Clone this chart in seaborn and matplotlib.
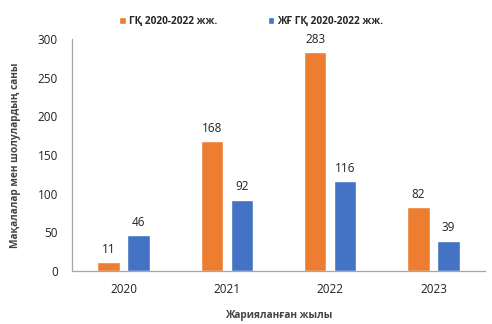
import matplotlib
matplotlib.use("Agg")
import matplotlib.pyplot as plt
import seaborn as sns
import pandas as pd

years = ["2020", "2021", "2022", "2023"]
series_names = ["ГҚ 2020-2022 жж.", "ЖҒ ГҚ 2020-2022 жж."]
gk_values = [11, 168, 283, 82]
zhg_values = [46, 92, 116, 39]
colors = ["#ED7D31", "#4472C4"]

df = pd.DataFrame({
    "year": years * 2,
    "value": gk_values + zhg_values,
    "series": [series_names[0]] * len(years) + [series_names[1]] * len(years),
})

sns.set_theme(style="white")
plt.rcParams["font.family"] = ["Open Sans", "Noto Sans", "DejaVu Sans"]

fig = plt.figure(figsize=(4.92, 3.24), dpi=100)
ax = fig.add_axes([0.146, 0.164, 0.84, 0.716])

sns.barplot(data=df, x="year", y="value", hue="series", palette=colors,
            width=0.58, gap=0.25, ax=ax, saturation=1, legend=True)

for cont in ax.containers:
    ax.bar_label(cont, padding=4.5, fontsize=8.5, color="#222222")

ax.set_ylim(0, 300)
ax.set_yticks(range(0, 301, 50))
ax.set_xlim(-0.5, 3.5)
ax.tick_params(axis="both", labelsize=8.5, colors="#222222", length=0)
ax.tick_params(axis="x", pad=9)
ax.tick_params(axis="y", pad=10)
ax.set_xlabel("Жарияланған жылы", fontsize=7.3, fontweight="bold", color="#444444", labelpad=10)
ax.set_ylabel("Мақалалар мен шолулардың саны", fontsize=7.3, fontweight="bold", color="#444444", labelpad=12)

for side in ["top", "right"]:
    ax.spines[side].set_visible(False)
for side in ["left", "bottom"]:
    ax.spines[side].set_color("#A6A6A6")
    ax.spines[side].set_linewidth(0.9)

handles, labels = ax.get_legend_handles_labels()
ax.legend(handles, labels, loc="center", bbox_to_anchor=(0.434, 1.075), ncol=2,
          frameon=False, prop={"weight": "bold", "size": 7.3},
          handlelength=0.65, handleheight=0.65, handletextpad=0.3, columnspacing=5.0)

fig.savefig("out.png", dpi=100)
